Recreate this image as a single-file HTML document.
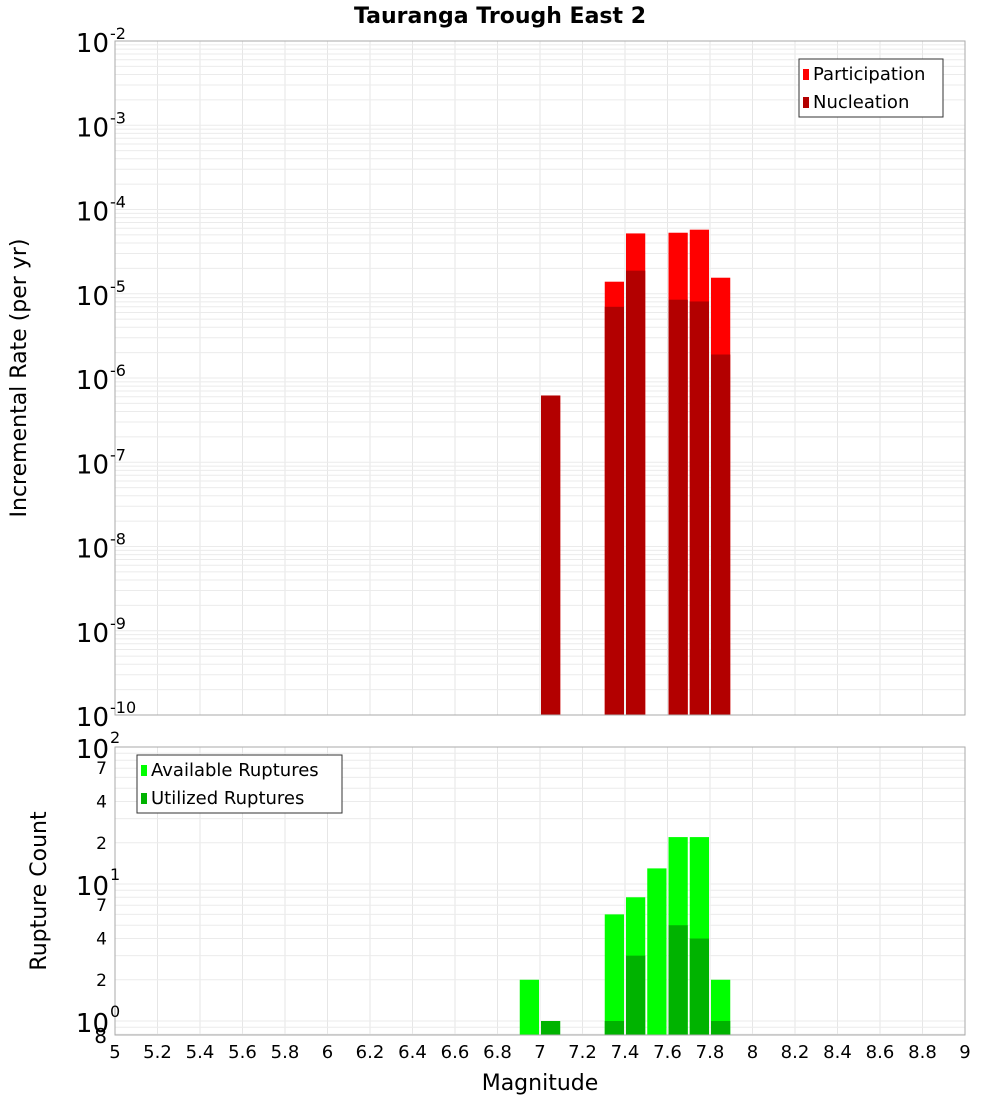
<!DOCTYPE html>
<html><head><meta charset="utf-8"><style>
body{margin:0;background:#fff;}
svg{display:block;font-family:"DejaVu Sans","Liberation Sans",sans-serif;}
</style></head><body>
<svg id="c" width="1000" height="1100" xmlns="http://www.w3.org/2000/svg"></svg>
<script>
const binCenters=[6.95,7.05,7.15,7.25,7.35,7.45,7.55,7.65,7.75,7.85];
const participation=[0,6.2e-7,0,0,1.39e-5,5.2e-5,0,5.3e-5,5.76e-5,1.55e-5];
const nucleation=[0,6.2e-7,0,0,7.0e-6,1.88e-5,0,8.5e-6,8.1e-6,1.9e-6];
const available=[2,0,0,0,6,8,13,22,22,2];
const utilized=[0,1,0,0,1,3,0,5,4,1];
const xTicks=[5,5.2,5.4,5.6,5.8,6,6.2,6.4,6.6,6.8,7,7.2,7.4,7.6,7.8,8,8.2,8.4,8.6,8.8,9];
const topExps=[-2,-3,-4,-5,-6,-7,-8,-9,-10];
const botMinor=[{v:70,l:"7"},{v:40,l:"4"},{v:20,l:"2"},{v:7,l:"7"},{v:4,l:"4"},{v:2,l:"2"}];

const svg=document.getElementById('c');
const NS='http://www.w3.org/2000/svg';
function mk(t,a,p){const e=document.createElementNS(NS,t);for(const k in a)e.setAttribute(k,a[k]);(p||svg).appendChild(e);return e;}
const L=115,R=965;
const X=v=>L+(v-5)/4*(R-L);
const T1=41,B1=715;
const Y1=v=>T1+(-2-Math.log10(v))*(B1-T1)/8;
const T2=747,B2=1035,dec2=137,z2=1021;
const Y2=v=>z2-Math.log10(v)*dec2;

// title
let t=mk('text',{x:500,y:23,'text-anchor':'middle','font-size':22,'font-weight':'bold'});t.textContent='Tauranga Trough East 2';


function grid(top,bot,Y,minors){
  const g=mk('g',{});
  
  for(let v=5.2;v<9;v+=0.2)mk('line',{x1:X(v),x2:X(v),y1:top,y2:bot,stroke:'#e6e6e6'},g);
  minors.forEach(v=>{const y=Y(v);if(y>top&&y<bot)mk('line',{x1:L,x2:R,y1:y,y2:y,stroke:'#ebebeb'},g);});
}
// top grid
let m1=[];for(let e=-10;e<-2;e++)for(let k=1;k<10;k++)m1.push(k*Math.pow(10,e));
grid(T1,B1,Y1,m1);
let m2=[];for(let e=-1;e<2;e++)for(let k=1;k<10;k++)m2.push(k*Math.pow(10,e));
grid(T2,B2,Y2,m2);

const bw=(R-L)/40;
// top bars
binCenters.forEach((c,i)=>{
  const x=X(c)-bw/2+1,w=bw-2;
  if(participation[i]>0){const r=mk('rect',{x:x,y:Y1(participation[i]),width:w,height:B1-Y1(participation[i]),fill:'#ff0000'});
    }
  if(nucleation[i]>0){const r=mk('rect',{x:x,y:Y1(nucleation[i]),width:w,height:B1-Y1(nucleation[i]),fill:'#b30000'});
    }
  if(available[i]>0){const r=mk('rect',{x:x,y:Y2(available[i]),width:w,height:B2-Y2(available[i]),fill:'#00ff00'});
    }
  if(utilized[i]>0){const r=mk('rect',{x:x,y:Y2(utilized[i]),width:w,height:B2-Y2(utilized[i]),fill:'#00b300'});
    }
});
// frames
mk('rect',{x:L,y:T1,width:R-L,height:B1-T1,fill:'none',stroke:'#aaa'});
mk('rect',{x:L,y:T2,width:R-L,height:B2-T2,fill:'none',stroke:'#aaa'});

// top y labels
topExps.forEach(e=>{
  const y=Y1(Math.pow(10,e));
  const tx=mk('text',{x:109,y:y+11,'text-anchor':'end','font-size':26});
  
  tx.textContent='10';
  const s=mk('text',{x:110,y:y-2,'font-size':16});s.textContent=String(e);
  
});
// bottom y labels
[[2,Y2(100)],[1,Y2(10)],[0,Y2(1)]].forEach(([e,y])=>{
  const tx=mk('text',{x:109,y:y+11,'text-anchor':'end','font-size':26});tx.textContent='10';
  
  const s=mk('text',{x:110,y:y-4,'font-size':16});s.textContent=String(e);
  
});
botMinor.forEach(o=>{const tx=mk('text',{x:107,y:Y2(o.v)+6,'text-anchor':'end','font-size':17});tx.textContent=o.l;
  });
let e8=mk('text',{x:107,y:1043,'text-anchor':'end','font-size':20});e8.textContent='8';


// x ticks
xTicks.forEach(v=>{const tx=mk('text',{x:X(v),y:1058,'text-anchor':'middle','font-size':18});
  tx.textContent=String(v);});
let xl=mk('text',{x:540,y:1090,'text-anchor':'middle','font-size':22});xl.textContent='Magnitude';

let yl=mk('text',{x:0,y:0,'text-anchor':'middle','font-size':22,transform:'translate(26,378) rotate(-90)'});yl.textContent='Incremental Rate (per yr)';

let yl2=mk('text',{x:0,y:0,'text-anchor':'middle','font-size':22,transform:'translate(46,891) rotate(-90)'});yl2.textContent='Rupture Count';


function legend(x,y,w,items,name){
  const g=mk('g',{});
  mk('rect',{x:x,y:y,width:w,height:58,fill:'#fff',stroke:'#333'},g);
  items.forEach((it,i)=>{
    mk('rect',{x:x+4,y:y+10+i*28,width:6,height:11,fill:it[1]},g);
    const tx=mk('text',{x:x+14,y:y+21+i*28,'font-size':18},g);tx.textContent=it[0];
    
  });
}
legend(799,59,144,[['Participation','#ff0000'],['Nucleation','#b30000']],'top-legend');
legend(137,755,205,[['Available Ruptures','#00ff00'],['Utilized Ruptures','#00b300']],'bottom-legend');
</script>
</body></html>
